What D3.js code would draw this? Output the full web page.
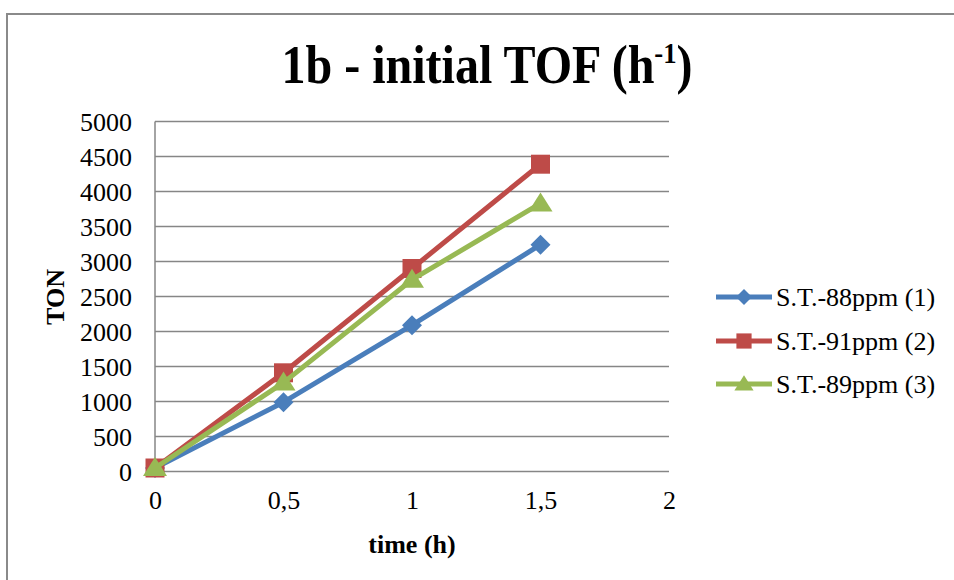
<!DOCTYPE html>
<html>
<head>
<meta charset="utf-8">
<script src="https://cdn.jsdelivr.net/npm/d3@7/dist/d3.min.js"></script>
<style>
  html, body { margin: 0; padding: 0; background: #ffffff; }
  svg { display: block; }
  text { font-family: "Liberation Serif", "Times New Roman", serif; fill: #000; }
</style>
</head>
<body>
<svg id="chart" width="954" height="580"></svg>
<script>
// Sampling times (h)
const times = [0, 0.5, 1, 1.5];
// Turnover numbers for each run
const tonRun1 = [50, 990, 2090, 3240];
const tonRun2 = [50, 1410, 2900, 4390];
const tonRun3 = [50, 1270, 2740, 3830];
const seriesNames = ["S.T.-88ppm (1)", "S.T.-91ppm (2)", "S.T.-89ppm (3)"];
const seriesColors = ["#4A7EBB", "#BE4B48", "#98B954"];
const seriesShapes = ["diamond", "square", "triangle"];
// Axis ticks
const xTicks = [0, 0.5, 1, 1.5, 2];
const xTickLabels = ["0", "0,5", "1", "1,5", "2"];
const yTicks = [0, 500, 1000, 1500, 2000, 2500, 3000, 3500, 4000, 4500, 5000];

const FONT = '"Liberation Serif", "Times New Roman", serif';
const svg = d3.select("#chart");

// Outer chart frame
svg.append("rect")
  .attr("x", 7).attr("y", 14)
  .attr("width", 960).attr("height", 580)
  .attr("fill", "none").attr("stroke", "#8a8a8a").attr("stroke-width", 2);

const plot = { left: 155, right: 669, top: 121.5, bottom: 471.5 };
const x = d3.scaleLinear().domain([0, 2]).range([plot.left, plot.right]);
const y = d3.scaleLinear().domain([0, 5000]).range([plot.bottom, plot.top]);

// Horizontal gridlines
svg.append("g")
  .selectAll("line")
  .data(yTicks)
  .join("line")
  .attr("x1", plot.left).attr("x2", plot.right)
  .attr("y1", d => y(d)).attr("y2", d => y(d))
  .attr("stroke", "#868686").attr("stroke-width", 1.5);

// Vertical axis line
svg.append("line")
  .attr("x1", plot.left).attr("x2", plot.left)
  .attr("y1", plot.top).attr("y2", plot.bottom)
  .attr("stroke", "#868686").attr("stroke-width", 1.5);

// Y axis tick labels
const yAxis = d3.axisLeft(y).tickValues(yTicks).tickSize(0).tickPadding(23)
  .tickFormat(d3.format("d"));
const gy = svg.append("g").attr("transform", `translate(${plot.left},0)`).call(yAxis);
gy.select(".domain").remove();
gy.attr("font-family", FONT).attr("font-size", 26);
gy.selectAll("text").attr("fill", "#000").attr("dy", "0.34em");

// X axis tick labels
const xAxis = d3.axisBottom(x).tickValues(xTicks).tickSize(0).tickPadding(19)
  .tickFormat((d, i) => xTickLabels[i]);
const gx = svg.append("g").attr("transform", `translate(0,${plot.bottom})`).call(xAxis);
gx.select(".domain").remove();
gx.attr("font-family", FONT).attr("font-size", 26);
gx.selectAll("text").attr("fill", "#000");

// Marker path generators
function markerPath(shape) {
  if (shape === "diamond") {
    const r = 10;
    return `M0,${-r}L${r},0L0,${r}L${-r},0Z`;
  }
  if (shape === "square") {
    const h = 9.5;
    return `M${-h},${-h}H${h}V${h}H${-h}Z`;
  }
  const w = 12, top = -11, bot = 8;
  return `M0,${top}L${w},${bot}L${-w},${bot}Z`;
}

const allSeries = [tonRun1, tonRun2, tonRun3];
const line = d3.line().x((d, i) => x(times[i])).y(d => y(d));

allSeries.forEach((vals, s) => {
  const g = svg.append("g");
  g.append("path")
    .attr("d", line(vals))
    .attr("fill", "none")
    .attr("stroke", seriesColors[s])
    .attr("stroke-width", 5)
    .attr("stroke-linejoin", "round");
  g.selectAll("path.mk")
    .data(vals)
    .join("path")
    .attr("class", "mk")
    .attr("d", markerPath(seriesShapes[s]))
    .attr("transform", (d, i) => `translate(${x(times[i])},${y(d)})`)
    .attr("fill", seriesColors[s]);
});

// Title
const title = svg.append("text")
  .attr("transform", "translate(487,83) scale(0.89,1)")
  .attr("text-anchor", "middle")
  .style("font-family", FONT)
  .style("font-size", "54px").style("font-weight", "bold");
title.append("tspan").text("1b - initial TOF (h");
title.append("tspan").text("-1").style("font-size", "30px").attr("dy", -20);
title.append("tspan").text(")").attr("dy", 20);

// Axis titles
svg.append("text")
  .attr("x", 412).attr("y", 553)
  .attr("text-anchor", "middle")
  .style("font-family", FONT)
  .style("font-size", "26px").style("font-weight", "bold")
  .text("time (h)");

svg.append("text")
  .attr("transform", "translate(64,297) rotate(-90)")
  .attr("text-anchor", "middle")
  .style("font-family", FONT)
  .style("font-size", "26px").style("font-weight", "bold")
  .text("TON");

// Legend
const legendRows = [297, 341, 384];
const legend = svg.append("g");
seriesNames.forEach((name, s) => {
  const ly = legendRows[s];
  legend.append("line")
    .attr("x1", 716).attr("x2", 772).attr("y1", ly).attr("y2", ly)
    .attr("stroke", seriesColors[s]).attr("stroke-width", 5);
  legend.append("path")
    .attr("d", markerPath(seriesShapes[s]))
    .attr("transform", `translate(744,${ly}) scale(0.8)`)
    .attr("fill", seriesColors[s]);
  legend.append("text")
    .attr("x", 776).attr("y", ly + 9)
    .style("font-family", FONT)
    .style("font-size", "26px")
    .text(name);
});
</script>
</body>
</html>
